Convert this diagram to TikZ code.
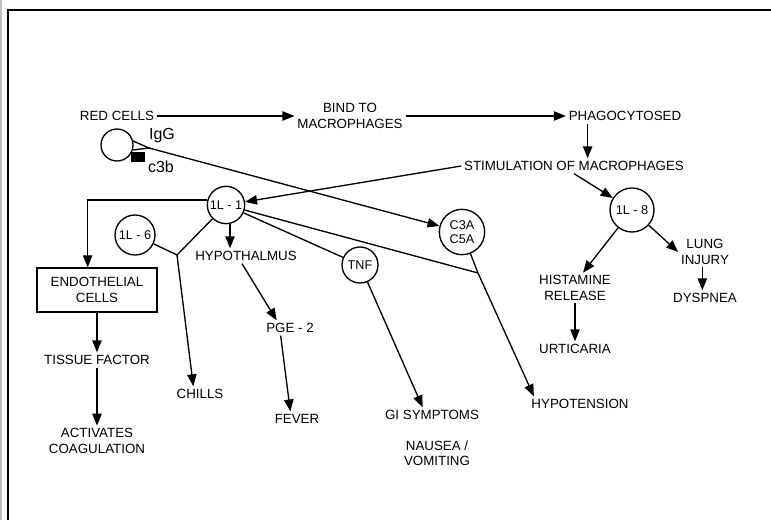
\documentclass[tikz,border=0pt]{standalone}
\usepackage{fontspec}
\setmainfont{Liberation Sans}
\usetikzlibrary{arrows.meta}
\begin{document}
\begin{tikzpicture}[x=0.75pt,y=-0.75pt,
  lbl/.style={font=\fontsize{10}{11.5}\selectfont, align=center, inner sep=2pt},
  cyt/.style={circle, draw, line width=1pt, inner sep=0pt, font=\fontsize{9.5}{10.5}\selectfont, align=center},
  arr/.style={-{Triangle[length=9pt,width=7pt]}, line width=1pt},
  lnk/.style={line width=1pt}]
\useasboundingbox (0,0) rectangle (771,520);
\draw[gray!50, line width=1.2pt] (1,0) -- (1,520);
\draw[line width=1.1pt] (8,520) -- (8,10) -- (771,10);
% top row
\node[lbl] (red) at (117,116) {RED CELLS};
\node[lbl] (bind) at (350,116) {BIND TO\\MACROPHAGES};
\node[lbl] (phago) at (625,116) {PHAGOCYTOSED};
\node[lbl] (stim) at (574,166) {STIMULATION OF MACROPHAGES};
\draw[arr](red) -- (bind);
\draw[arr](bind) -- (phago);
\draw[arr]([xshift=-28pt]phago.south) -- ([xshift=-28pt]phago.south |- stim.north);
% red cell with IgG and c3b
\node[circle, draw, line width=1pt, minimum size=24pt] (cell) at (117,145){};
\coordinate (igg) at (149,148);
\draw[lnk](133,141) -- (igg) -- (133,150);
\node[fill, minimum width=10pt, minimum height=8pt, inner sep=0pt] (c3bsq) at (138,157){};
\node[lbl, font=\fontsize{12}{13}\selectfont] (igglbl) at (162,136) {IgG};
\node[lbl, font=\fontsize{12}{13}\selectfont] (c3blbl) at (161,167) {c3b};
% cytokines
\node[cyt, minimum size=28pt] (il1) at (226,205) {1L - 1};
\node[cyt, minimum size=30pt] (il6) at (135,235) {1L - 6};
\node[cyt, minimum size=33pt] (il8) at (632,210) {1L - 8};
\node[cyt, minimum size=34pt] (c3a) at (462,232) {C3A\\C5A};
\node[cyt, minimum size=27pt] (tnf) at (360,265) {TNF};
\draw[arr](stim.west) -- (il1);
\draw[arr](stim.south) -- (il8);
\draw[arr](igg) -- (c3a);
% endothelial branch
\node[draw, lbl, line width=1pt, minimum width=90pt, minimum height=33pt] (endo) at (97,290) {ENDOTHELIAL\\CELLS};
\node[lbl] (tissue) at (97,360) {TISSUE FACTOR};
\node[lbl] (coag) at (97,441) {ACTIVATES\\COAGULATION};
\draw[arr](il1.165) -| ([xshift=-7pt]endo.north);
\draw[arr](endo) -- (tissue);
\draw[arr](tissue) -- (coag);
% chills
\node[lbl] (chills) at (200,394) {CHILLS};
\coordinate (j6) at (177,255);
\draw[lnk](il6) -- (j6) -- (il1);
\draw[arr](j6) -- ([xshift=-5pt]chills.north);
% fever
\node[lbl] (hypo) at (246,256) {HYPOTHALMUS};
\node[lbl] (pge) at (290,328) {PGE - 2};
\node[lbl] (fever) at (297,419) {FEVER};
\draw[arr](il1.-78) -- (il1.-78 |- hypo.north);
\draw[arr]([xshift=-3pt]hypo.south) -- ([xshift=-10pt]pge.north);
\draw[arr]([xshift=-7pt]pge.south) -- ([xshift=-5pt]fever.north);
% TNF
\node[lbl] (gi) at (432,415) {GI SYMPTOMS};
\node[lbl] (nausea) at (437,453) {NAUSEA /\\VOMITING};
\draw[lnk](il1) -- (tnf);
\draw[arr](tnf) -- ([xshift=-7pt]gi.north);
% hypotension
\node[lbl] (hypot) at (580,404) {HYPOTENSION};
\coordinate (jc) at (478,273);
\draw[lnk](il1) -- (jc) -- (c3a);
\draw[arr](jc) -- ([xshift=4pt]hypot.north west);
% IL-8 branch
\node[lbl] (hist) at (575,288) {HISTAMINE\\RELEASE};
\node[lbl] (urt) at (575,349) {URTICARIA};
\node[lbl] (lung) at (705,252) {LUNG\\INJURY};
\node[lbl] (dysp) at (705,298) {DYSPNEA};
\draw[arr](il8) -- ([xshift=6pt]hist.north);
\draw[arr](il8) -- (lung.west);
\draw[arr](hist) -- (urt);
\draw[arr]([xshift=-2pt]lung.south) -- ([xshift=-2pt]dysp.north);
\end{tikzpicture}
\end{document}
